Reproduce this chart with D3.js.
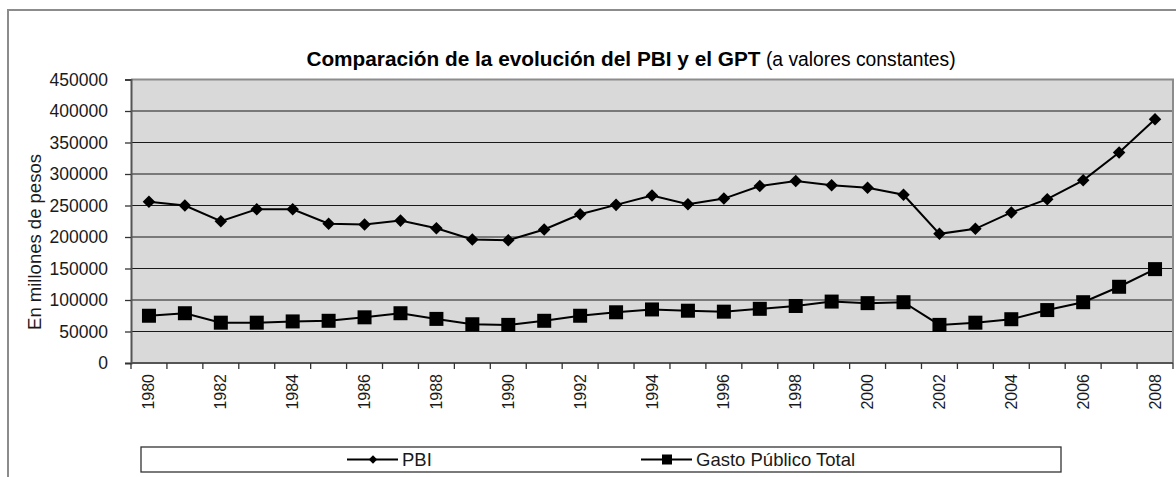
<!DOCTYPE html>
<html>
<head>
<meta charset="utf-8">
<script src="https://cdn.jsdelivr.net/npm/d3@7"></script>
<style>
  body { margin: 0; background: #fff; }
  svg { display: block; font-family: "Liberation Sans", Arial, sans-serif; }
</style>
</head>
<body>
<div id="chart"></div>
<script>
// data
var years = d3.range(1980, 2009);
var pbi = [256000, 250000, 225000, 244000, 244000, 221000, 220000, 226000, 214000, 196000,
           195000, 212000, 236000, 251000, 266000, 252000, 261000, 281000, 289000, 282000,
           278000, 267000, 205000, 213000, 239000, 260000, 290000, 334000, 387000];
var gpt = [75000, 79000, 64000, 64000, 66000, 67000, 72500, 79000, 70000, 61500,
           60500, 67000, 75000, 80500, 85000, 83000, 81500, 86000, 90500, 97500,
           95000, 96500, 60500, 64000, 69500, 84000, 96500, 121000, 149000];
var yTicks = [0, 50000, 100000, 150000, 200000, 250000, 300000, 350000, 400000, 450000];
var xLabelYears = years.filter(function(d) { return d % 2 == 0; });

var W = 1176, H = 477;
var plot = {left: 131, right: 1173, top: 79.5, bottom: 363};

var svg = d3.select("#chart").append("svg")
    .attr("width", W)
    .attr("height", H);

// outer frame
svg.append("rect")
    .attr("x", 8).attr("y", 10)
    .attr("width", 1200).attr("height", 500)
    .attr("fill", "#fff")
    .attr("stroke", "#8c8c8c")
    .attr("stroke-width", 2);

var x = d3.scaleBand()
    .domain(years)
    .range([plot.left, plot.right])
    .paddingInner(0);

var y = d3.scaleLinear()
    .domain([0, 450000])
    .range([plot.bottom, plot.top]);

// plot background
svg.append("rect")
    .attr("x", plot.left).attr("y", plot.top)
    .attr("width", plot.right - plot.left)
    .attr("height", plot.bottom - plot.top)
    .attr("fill", "#d9d9d9");

// gridlines
svg.append("g")
  .selectAll("line")
  .data(yTicks.filter(function(d) { return d > 0 && d < 450000; }))
  .enter().append("line")
    .attr("x1", plot.left).attr("x2", plot.right)
    .attr("y1", function(d) { return y(d); })
    .attr("y2", function(d) { return y(d); })
    .attr("stroke", "#1a1a1a")
    .attr("stroke-width", 1.2);

// plot border (top/right)
svg.append("path")
    .attr("d", "M" + plot.left + "," + plot.top + "H" + plot.right + "V" + plot.bottom)
    .attr("fill", "none")
    .attr("stroke", "#8c8c8c")
    .attr("stroke-width", 2);

// y axis
var yAxis = svg.append("g")
    .attr("transform", "translate(" + plot.left + ",0)")
    .call(d3.axisLeft(y).tickValues(yTicks).tickSize(6).tickPadding(17).tickFormat(d3.format("d")));
yAxis.select(".domain").attr("stroke", "#555").attr("stroke-width", 2);
yAxis.selectAll(".tick line").attr("stroke", "#333").attr("stroke-width", 1.3);
yAxis.selectAll("text")
    .attr("font-size", 17.5)
    .attr("fill", "#1a1a1a")
    .attr("font-family", "Liberation Sans, Arial, sans-serif");

// x axis: ticks between categories
var xEdges = years.map(function(d) { return x(d); }).concat([plot.right]);
svg.append("line")
    .attr("x1", plot.left).attr("x2", plot.right)
    .attr("y1", plot.bottom).attr("y2", plot.bottom)
    .attr("stroke", "#555").attr("stroke-width", 2);
svg.append("g")
  .selectAll("line")
  .data(xEdges)
  .enter().append("line")
    .attr("x1", function(d) { return d; })
    .attr("x2", function(d) { return d; })
    .attr("y1", plot.bottom).attr("y2", plot.bottom + 6)
    .attr("stroke", "#333").attr("stroke-width", 1.3);

svg.append("g")
  .selectAll("text")
  .data(xLabelYears)
  .enter().append("text")
    .attr("transform", function(d) {
      return "translate(" + (x(d) + x.bandwidth() / 2 + 5.5) + "," + 374 + ") rotate(-90)";
    })
    .attr("text-anchor", "end")
    .attr("font-size", 16)
    .attr("fill", "#1a1a1a")
    .text(function(d) { return d; });

// y axis title
svg.append("text")
    .attr("transform", "translate(41,242) rotate(-90)")
    .attr("text-anchor", "middle")
    .attr("font-size", 18.5)
    .attr("fill", "#1a1a1a")
    .text("En millones de pesos");

// title
var title = svg.append("text")
    .attr("x", 631)
    .attr("y", 66)
    .attr("text-anchor", "middle");
title.append("tspan")
    .attr("font-weight", "bold")
    .attr("font-size", 20.8)
    .text("Comparación de la evolución del PBI y el GPT");
title.append("tspan")
    .attr("font-size", 19.3)
    .text(" (a valores constantes)");

// lines
var cx = function(i) { return x(years[i]) + x.bandwidth() / 2; };
var line = d3.line()
    .x(function(d, i) { return cx(i); })
    .y(function(d) { return y(d); });

svg.append("path")
    .datum(pbi)
    .attr("d", line)
    .attr("fill", "none")
    .attr("stroke", "#000")
    .attr("stroke-width", 2);

svg.append("path")
    .datum(gpt)
    .attr("d", line)
    .attr("fill", "none")
    .attr("stroke", "#000")
    .attr("stroke-width", 2);

// markers
var diamond = d3.symbol().type(d3.symbolDiamond2).size(100);
svg.append("g")
  .selectAll("path")
  .data(pbi)
  .enter().append("path")
    .attr("d", diamond)
    .attr("transform", function(d, i) { return "translate(" + cx(i) + "," + y(d) + ")"; })
    .attr("fill", "#000");

svg.append("g")
  .selectAll("rect")
  .data(gpt)
  .enter().append("rect")
    .attr("x", function(d, i) { return cx(i) - 7; })
    .attr("y", function(d) { return y(d) - 7; })
    .attr("width", 14).attr("height", 14)
    .attr("fill", "#000");

// legend
var legend = svg.append("g");
legend.append("rect")
    .attr("x", 141).attr("y", 447)
    .attr("width", 920).attr("height", 25)
    .attr("fill", "#fff")
    .attr("stroke", "#333")
    .attr("stroke-width", 1.3);

var items = [
  {name: "PBI", x0: 347, shape: "diamond"},
  {name: "Gasto Público Total", x0: 641, shape: "square"}
];
items.forEach(function(it) {
  var g = legend.append("g");
  g.append("line")
      .attr("x1", it.x0).attr("x2", it.x0 + 51)
      .attr("y1", 459.5).attr("y2", 459.5)
      .attr("stroke", "#000").attr("stroke-width", 2);
  if (it.shape == "diamond") {
    g.append("path")
        .attr("d", d3.symbol().type(d3.symbolDiamond2).size(45))
        .attr("transform", "translate(" + (it.x0 + 26) + ",459.5)")
        .attr("fill", "#000");
  } else {
    g.append("rect")
        .attr("x", it.x0 + 21).attr("y", 454.5)
        .attr("width", 10).attr("height", 10)
        .attr("fill", "#000");
  }
  g.append("text")
      .attr("x", it.x0 + 55)
      .attr("y", 466)
      .attr("font-size", 18.5)
      .attr("fill", "#1a1a1a")
      .text(it.name);
});
</script>
</body>
</html>
